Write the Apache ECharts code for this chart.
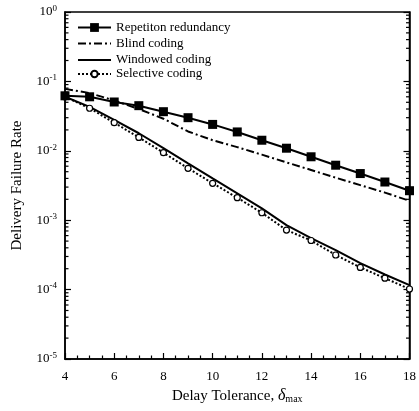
<!DOCTYPE html>
<html>
<head>
<meta charset="utf-8">
<script src="https://cdn.jsdelivr.net/npm/echarts@6/dist/echarts.min.js"></script>
<style>
  html, body { margin: 0; padding: 0; background: #fff; }
  #chart { width: 419px; height: 411px; }
</style>
</head>
<body>
<div id="chart"></div>
<script>
// 数据
var delay = [4, 5, 6, 7, 8, 9, 10, 11, 12, 13, 14, 15, 16, 17, 18];
var repetition = [0.062, 0.060, 0.0505, 0.0447, 0.0366, 0.030, 0.0240, 0.0187, 0.0142, 0.0109, 0.0082, 0.0062, 0.0047, 0.00355, 0.00266];
var blind = [0.078, 0.068, 0.053, 0.040, 0.029, 0.019, 0.0142, 0.0113, 0.0088, 0.0068, 0.0053, 0.0041, 0.0032, 0.0025, 0.0019];
var windowed = [0.060, 0.043, 0.0278, 0.0179, 0.0109, 0.0066, 0.0040, 0.00244, 0.00148, 0.00085, 0.00055, 0.00037, 0.00024, 0.000165, 0.000116];
var selective = [0.060, 0.041, 0.0254, 0.0156, 0.0094, 0.0056, 0.0034, 0.00211, 0.00128, 0.00072, 0.00051, 0.000315, 0.000209, 0.000146, 0.000102];
var seriesNames = ['Repetiton redundancy', 'Blind coding', 'Windowed coding', 'Selective coding'];
var xTicks = [4, 6, 8, 10, 12, 14, 16, 18];

var FONT = 'Liberation Serif';

function pairs(vals) {
  return delay.map(function (d, i) { return [d, vals[i]]; });
}

// log minor ticks 2..9 per decade
var minorVals = [];
for (var e = -5; e < 0; e++) {
  for (var m = 2; m <= 9; m++) minorVals.push([xTicks[0], m * Math.pow(10, e)]);
}

var legendText = { fontFamily: FONT, fontSize: 13, color: '#000' };
var noSymbol = { color: 'rgba(0,0,0,0)', borderWidth: 0 };

var myChart = echarts.init(document.getElementById('chart'));

var option = {
  backgroundColor: '#fff',
  animation: false,
  grid: {
    left: 65, right: 6, top: 12, bottom: 52,
    show: true, borderColor: '#000', borderWidth: 1.5
  },
  legend: [{
    data: [seriesNames[0]],
    orient: 'vertical',
    left: 77, top: 21, padding: 0,
    itemWidth: 33, itemHeight: 11,
    textStyle: legendText
  }, {
    data: [
      { name: seriesNames[1], itemStyle: noSymbol },
      { name: seriesNames[2], itemStyle: noSymbol }
    ],
    orient: 'vertical',
    left: 77, top: 37, padding: 0,
    itemWidth: 33, itemHeight: 8, itemGap: 3.5,
    textStyle: legendText
  }, {
    data: [seriesNames[3]],
    orient: 'vertical',
    left: 77, top: 67.5, padding: 0,
    itemWidth: 33, itemHeight: 8,
    textStyle: legendText
  }],
  xAxis: {
    type: 'value',
    min: 4, max: 18, interval: 2,
    name: 'Delay Tolerance, {d|δ}{s|max}',
    nameLocation: 'middle',
    nameGap: 26,
    nameTextStyle: {
      fontFamily: FONT, fontSize: 15, color: '#000',
      rich: {
        d: { fontFamily: FONT, fontSize: 16, fontStyle: 'italic', color: '#000' },
        s: { fontFamily: FONT, fontSize: 10, color: '#000', verticalAlign: 'bottom', padding: [6, 0, 0, 0] }
      }
    },
    axisLine: { lineStyle: { color: '#000', width: 1.5 } },
    axisTick: { inside: true, length: 6, lineStyle: { color: '#000', width: 1.2 } },
    minorTick: { show: true, splitNumber: 4, length: 3.5, lineStyle: { color: '#000', width: 1.2 } },
    axisLabel: { fontFamily: FONT, fontSize: 13, color: '#000', margin: 11 },
    splitLine: { show: false }
  },
  yAxis: [{
    type: 'log',
    logBase: 10,
    min: 1e-5, max: 1,
    name: 'Delivery Failure Rate',
    nameLocation: 'middle',
    nameGap: 40,
    nameTextStyle: { fontFamily: FONT, fontSize: 15, color: '#000' },
    axisLine: { lineStyle: { color: '#000', width: 1.5 } },
    axisTick: { inside: true, length: 6, lineStyle: { color: '#000', width: 1.2 } },
    axisLabel: {
      fontFamily: FONT, fontSize: 13, color: '#000', margin: 8,
      formatter: function (v) {
        var p = Math.round(Math.log(v) / Math.LN10);
        return '{b|10}{s|' + p + '}';
      },
      rich: {
        b: { fontFamily: FONT, fontSize: 13, color: '#000' },
        s: { fontFamily: FONT, fontSize: 9, color: '#000', verticalAlign: 'top', padding: [0, 0, 7, 0] }
      }
    },
    splitLine: { show: false }
  }, {
    type: 'log',
    logBase: 10,
    min: 1e-5, max: 1,
    position: 'right',
    axisLine: { show: true, lineStyle: { color: '#000', width: 1.5 } },
    axisTick: { inside: true, length: 6, lineStyle: { color: '#000', width: 1.2 } },
    axisLabel: { show: false },
    splitLine: { show: false }
  }],
  series: [{
    name: seriesNames[0],
    type: 'line',
    data: pairs(repetition),
    symbol: 'rect',
    symbolSize: 9,
    itemStyle: { color: '#000' },
    lineStyle: { color: '#000', width: 2 },
    z: 5
  }, {
    name: seriesNames[1],
    type: 'line',
    data: pairs(blind),
    symbol: 'none',
    itemStyle: { color: '#000' },
    lineStyle: { color: '#000', width: 2, type: [8, 3, 2, 3] }
  }, {
    name: seriesNames[2],
    type: 'line',
    data: pairs(windowed),
    symbol: 'none',
    itemStyle: { color: '#000' },
    lineStyle: { color: '#000', width: 2 }
  }, {
    name: seriesNames[3],
    type: 'line',
    data: pairs(selective),
    symbol: 'circle',
    symbolSize: 6,
    itemStyle: { color: '#fff', borderColor: '#000', borderWidth: 1.2 },
    lineStyle: { color: '#000', width: 2, type: [2, 2] },
    z: 4
  }, {
    // minor ticks on left and right log axes
    type: 'custom',
    silent: true,
    data: minorVals,
    renderItem: function (params, api) {
      var v = api.value(1);
      var l = api.coord([xTicks[0], v]);
      var r = api.coord([xTicks[xTicks.length - 1], v]);
      var style = { stroke: '#000', lineWidth: 1.2 };
      return {
        type: 'group',
        children: [
          { type: 'line', shape: { x1: l[0], y1: l[1], x2: l[0] + 3.5, y2: l[1] }, style: style },
          { type: 'line', shape: { x1: r[0], y1: r[1], x2: r[0] - 3.5, y2: r[1] }, style: style }
        ]
      };
    },
    z: 10
  }]
};

myChart.setOption(option);
</script>
</body>
</html>
